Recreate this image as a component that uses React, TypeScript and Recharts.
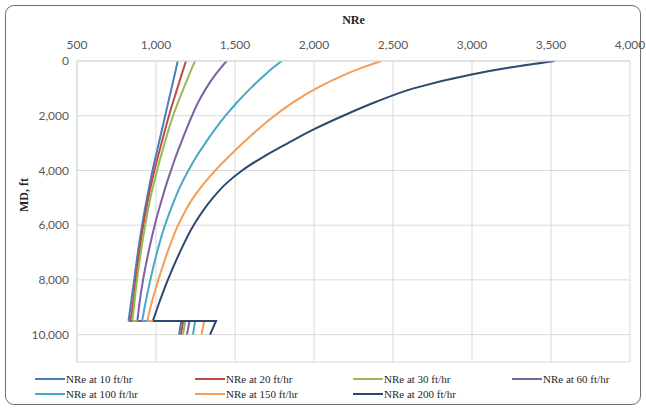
import React from 'react';
import { LineChart, Line, XAxis, YAxis, CartesianGrid, Label } from 'recharts';

// measured depth, ft (9500 twice: jump at the change of section)
const depths = [0, 250, 500, 1000, 1500, 2000, 2500, 3000, 3500, 4000, 4500, 5000, 6000, 7000, 8000, 9000, 9500, 9500, 10000];
const JUMP = 16; // index of the last point of the upper section

// NRe, one list per rate of penetration
const nre10 = [1137, 1128, 1118, 1098, 1078, 1058, 1038, 1018, 998, 978, 960, 943, 912, 885, 862, 838, 826, 1160, 1146];
const nre20 = [1190, 1176, 1162, 1135, 1108, 1082, 1058, 1035, 1012, 990, 970, 952, 920, 894, 872, 851, 838, 1172, 1158];
const nre30 = [1247, 1228, 1210, 1175, 1140, 1108, 1080, 1055, 1030, 1007, 985, 965, 932, 904, 880, 860, 850, 1186, 1171];
const nre60 = [1447, 1410, 1376, 1317, 1268, 1228, 1192, 1158, 1125, 1095, 1066, 1040, 992, 952, 918, 892, 882, 1212, 1196];
const nre100 = [1796, 1740, 1690, 1598, 1515, 1440, 1373, 1312, 1255, 1205, 1160, 1122, 1057, 1006, 964, 928, 912, 1248, 1234];
const nre150 = [2428, 2300, 2195, 2015, 1870, 1750, 1645, 1550, 1460, 1375, 1300, 1235, 1140, 1072, 1015, 965, 945, 1305, 1288];
const nre200 = [3525, 3230, 2990, 2630, 2390, 2185, 1998, 1835, 1680, 1545, 1440, 1360, 1238, 1150, 1075, 1010, 980, 1380, 1342];

const xTicks = [500, 1000, 1500, 2000, 2500, 3000, 3500, 4000];
const yTicks = [0, 2000, 4000, 6000, 8000, 10000];

const series = [
  { key: 'r10', name: 'NRe at 10 ft/hr', color: '#4A7EBB', values: nre10 },
  { key: 'r20', name: 'NRe at 20 ft/hr', color: '#BE4B48', values: nre20 },
  { key: 'r30', name: 'NRe at 30 ft/hr', color: '#98B954', values: nre30 },
  { key: 'r60', name: 'NRe at 60 ft/hr', color: '#7D60A0', values: nre60 },
  { key: 'r100', name: 'NRe at 100 ft/hr', color: '#46AAC5', values: nre100 },
  { key: 'r150', name: 'NRe at 150 ft/hr', color: '#F59D56', values: nre150 },
  { key: 'r200', name: 'NRe at 200 ft/hr', color: '#2C4A6E', values: nre200 },
];

// upper section drawn smooth, lower section (jump + short leg) drawn straight
const rows = depths.map((md, i) => {
  const r: any = { md };
  series.forEach((s) => {
    r[s.key + '_up'] = i <= JUMP ? s.values[i] : null;
    r[s.key + '_lo'] = i >= JUMP ? s.values[i] : null;
  });
  return r;
});

const fmt = (v: number) => v.toLocaleString('en-US');
const tickStyle = { fontSize: 12, fill: '#595959', fontFamily: 'Lato' };
const legendCols = [35, 195, 353, 512];

export default function App() {
  return (
    <div style={{ position: 'absolute', left: 0, top: 0, width: 646, height: 410, background: '#fff' }}>
      <div
        style={{
          position: 'absolute', left: 5, top: 5, width: 634, height: 398,
          border: '1px solid #6e6e6e', borderRadius: 9,
        }}
      />
      <LineChart
        width={646}
        height={410}
        data={rows}
        layout="vertical"
        margin={{ top: 14, right: 16, bottom: 48, left: 0 }}
        style={{ position: 'absolute', left: 0, top: 0 }}
      >
        <CartesianGrid stroke="#d9d9d9" />
        <XAxis
          type="number"
          orientation="top"
          domain={[500, 4000]}
          ticks={xTicks}
          height={47}
          allowDataOverflow
          axisLine={{ stroke: '#d9d9d9' }}
          tickLine={false}
          tickMargin={6}
          tick={tickStyle}
          tickFormatter={fmt}
        >
          <Label
            value="NRe"
            position="insideTop"
            offset={1}
            style={{ fontFamily: 'Liberation Serif', fontWeight: 'bold', fontSize: 12, fill: '#262626' }}
          />
        </XAxis>
        <YAxis
          type="number"
          dataKey="md"
          domain={[0, 11000]}
          ticks={yTicks}
          width={77}
          allowDataOverflow
          axisLine={{ stroke: '#d9d9d9' }}
          tickLine={false}
          tick={tickStyle}
          tickFormatter={fmt}
        >
          <Label
            content={() => (
              <text
                x={24}
                y={195}
                transform="rotate(-90 24 195)"
                textAnchor="middle"
                dominantBaseline="central"
                style={{ fontFamily: 'Liberation Serif', fontWeight: 'bold', fontSize: 12, fill: '#262626' }}
              >
                MD, ft
              </text>
            )}
          />
        </YAxis>
        {series.map((s) => (
          <Line
            key={s.key + '_up'}
            dataKey={s.key + '_up'}
            name={s.name}
            type="monotone"
            stroke={s.color}
            strokeWidth={2}
            dot={false}
            activeDot={false}
            isAnimationActive={false}
          />
        ))}
        {series.map((s) => (
          <Line
            key={s.key + '_lo'}
            dataKey={s.key + '_lo'}
            name={s.name}
            type="linear"
            stroke={s.color}
            strokeWidth={2}
            dot={false}
            activeDot={false}
            isAnimationActive={false}
          />
        ))}
      </LineChart>
      {series.map((s, i) => (
        <div
          key={s.key}
          style={{
            position: 'absolute',
            left: legendCols[i % 4],
            top: i < 4 ? 371 : 386,
            height: 16,
            display: 'flex',
            alignItems: 'center',
            fontFamily: 'Liberation Serif',
            fontSize: 11,
            color: '#262626',
            whiteSpace: 'nowrap',
          }}
        >
          <span style={{ display: 'inline-block', width: 30, height: 2, background: s.color, marginRight: 1 }} />
          {s.name}
        </div>
      ))}
    </div>
  );
}
